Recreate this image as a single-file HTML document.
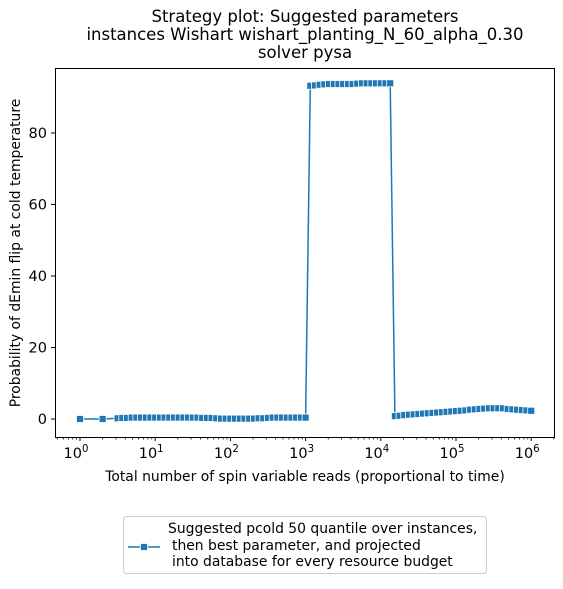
<!DOCTYPE html>
<html><head><meta charset="utf-8"><style>
body{margin:0;background:#fff;font-family:"Liberation Sans","DejaVu Sans",sans-serif}
svg text{font-family:"DejaVu Sans","Liberation Sans",sans-serif;fill:#000}
</style></head><body>
<svg id="c" width="563" height="584" viewBox="0 0 563 584" xmlns="http://www.w3.org/2000/svg">
<text x="305" y="22" font-size="16.5" text-anchor="middle">Strategy plot: Suggested parameters</text>
<text x="305" y="40" font-size="16.5" text-anchor="middle">instances Wishart wishart_planting_N_60_alpha_0.30</text>
<text x="305" y="58" font-size="16.5" text-anchor="middle">solver pysa</text>
<g id="ticks"></g>
<g id="series"></g>
<rect x="55.5" y="68.5" width="499" height="369" fill="none" stroke="#000" stroke-width="1"/>
<text x="305" y="481" font-size="13.9" text-anchor="middle">Total number of spin variable reads (proportional to time)</text>
<text transform="translate(20,253) rotate(-90)" font-size="13.9" text-anchor="middle">Probability of dEmin flip at cold temperature</text>
<g>
<rect x="123.5" y="516.5" width="363" height="57" rx="3" fill="#fff" stroke="#ccc"/>
<line x1="128" y1="547" x2="160" y2="547" stroke="#1f77b4" stroke-width="1.5"/>
<rect x="140.5" y="543.5" width="7" height="7" fill="#1f77b4" stroke="#fff" stroke-width="0.8"/>
<text x="168" y="533" font-size="13.9">Suggested pcold 50 quantile over instances,</text>
<text x="172" y="550" font-size="13.9">then best parameter, and projected</text>
<text x="172" y="566" font-size="13.9">into database for every resource budget</text>
</g>
</svg>
<script>
const xTickExps=[0,1,2,3,4,5,6];
const yTicks=[0,20,40,60,80];
const xLow=[1,2];
const stepExps=[];for(let i=8;i<=96;i++)stepExps.push(i/16);
const lowVals=[0.2,0.3,0.3,0.4,0.4,0.4,0.4,0.4,0.4,0.4,0.4,0.4,0.4,0.4,0.4,0.4,0.4,0.4,0.3,0.3,0.3,0.2,0.1,0.1,0.1,0.1,0.1,0.1,0.1,0.1,0.2,0.2,0.3,0.4,0.4,0.4,0.4,0.4,0.4,0.4,0.4];
const highVals=[93.2,93.3,93.5,93.6,93.7,93.7,93.7,93.7,93.7,93.7,93.8,93.9,93.9,93.9,93.9,93.9,93.9,93.9];
const tailVals=[0.8,0.9,1.1,1.2,1.3,1.4,1.5,1.6,1.7,1.8,1.9,2.0,2.1,2.2,2.3,2.4,2.6,2.7,2.8,2.9,3.0,3.0,3.0,3.0,2.8,2.7,2.6,2.5,2.4,2.3];
const headVals=[0.0,0.0];
const X=v=>80+75.2*Math.log10(v);
const Y=v=>419-v*3.575;
const ns="http://www.w3.org/2000/svg";
function mk(t,a,p){const e=document.createElementNS(ns,t);for(const k in a)e.setAttribute(k,a[k]);p.appendChild(e);return e;}
const tg=document.getElementById('ticks');
xTickExps.forEach(e=>{const x=X(Math.pow(10,e));
 const l=mk('line',{x1:x,y1:437,x2:x,y2:441,stroke:'#000'},tg);
 
 
 const t=mk('text',{x:x-4,y:458,'font-size':14.5,'text-anchor':'middle'},tg);
 
 
 t.textContent='10';const s=mk('tspan',{dy:-6,'font-size':10.2},t);s.textContent=String(e);
 for(let m=2;m<10;m++){const xm=X(m*Math.pow(10,e));if(xm<555){const mm=mk('line',{x1:xm,y1:437,x2:xm,y2:439.5,stroke:'#000','stroke-width':0.8},tg);
 
 }}
});
[0.5,0.6,0.7,0.8,0.9].forEach(f=>{const xm=X(f);const mm=mk('line',{x1:xm,y1:437,x2:xm,y2:439.5,stroke:'#000','stroke-width':0.8},tg);
 
 });
yTicks.forEach(v=>{const y=Y(v);
 const l=mk('line',{x1:51,y1:y,x2:55,y2:y,stroke:'#000'},tg);
 
 
 const t=mk('text',{x:47,y:y+5,'font-size':14.5,'text-anchor':'end'},tg);
 
 
 t.textContent=String(v);});
const xs=xLow.concat(stepExps.map(e=>Math.pow(10,e)));
const ys=headVals.concat(lowVals,highVals,tailVals);
const sg=document.getElementById('series');
const pts=xs.map((x,i)=>X(x).toFixed(1)+','+Y(ys[i]).toFixed(1)).join(' ');
const pl=mk('polyline',{points:pts,fill:'none',stroke:'#1f77b4','stroke-width':1.5},sg);


xs.forEach((x,i)=>{const r=mk('rect',{x:X(x)-3.5,y:Y(ys[i])-3.5,width:7,height:7,fill:'#1f77b4',stroke:'#fff','stroke-width':0.8},sg);
 
 });
</script>
</body></html>
